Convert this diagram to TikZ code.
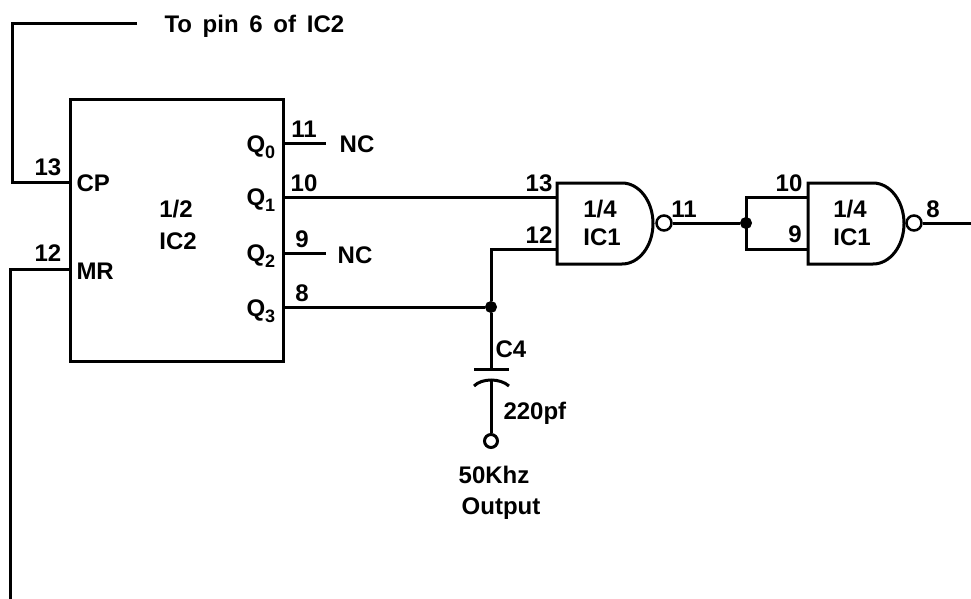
\documentclass[tikz,border=0pt]{standalone}
\usepackage{fontspec}
\setmainfont{Liberation Sans}
\usetikzlibrary{arrows}
\newcommand{\qpin}[1]{Q\raisebox{-6pt}{\fontsize{18}{20}\selectfont #1}}
\begin{document}
\begin{tikzpicture}[x=1pt,y=-1pt,line width=3pt]
\tikzstyle{chip} = [rectangle, draw, minimum width=213pt, minimum height=261pt, inner sep=0pt]
\tikzstyle{label} = [anchor=base, inner sep=0pt, font=\fontsize{24}{28}\selectfont\bfseries]
\tikzstyle{leftlabel} = [label, anchor=base west]
\tikzstyle{junction} = [circle, fill, draw, minimum size=11pt, inner sep=0pt, line width=1pt]
\tikzstyle{bubble} = [circle, draw, fill=white, minimum size=15pt, inner sep=0pt, line width=2.5pt]
\tikzstyle{terminal} = [circle, draw, fill=white, minimum size=13pt, inner sep=0pt, line width=3pt]
\useasboundingbox (0,0) rectangle (971,599);
% counter
\node [chip] (ic2) at (176.5,230.5) {};
\coordinate (pinend) at (137,24);
\coordinate (cp) at (70,182);
\coordinate (mr) at (70,269);
\coordinate (mrend) at (10,599);
\coordinate (q0) at (283,143);
\coordinate (q0end) at (326,143);
\coordinate (q1) at (283,197);
\coordinate (q2) at (283,253);
\coordinate (q2end) at (326,253);
\coordinate (q3) at (283,307);
% gates
\coordinate (gate1a) at (557,197);
\coordinate (gate1b) at (557,249);
\coordinate (gate2a) at (808,197);
\coordinate (gate2b) at (808,249);
\coordinate (out) at (971,223);
\draw [line join=miter] (557,183) -- (622,183) arc [start angle=90, end angle=-90, x radius=31pt, y radius=40.5pt] -- (557,264) -- cycle;
\draw [line join=miter] (808,183) -- (873,183) arc [start angle=90, end angle=-90, x radius=31pt, y radius=40.5pt] -- (808,264) -- cycle;
\node [bubble] (bubble1) at (664,223) {};
\node [bubble] (bubble2) at (914,223) {};
\node [junction] (join1) at (491,307) {};
\node [junction] (join2) at (746,223) {};
\node [terminal] (output) at (491,441) {};
\coordinate (plate1) at (491,369);
\coordinate (plate1a) at (474,369);
\coordinate (plate1b) at (509,369);
\coordinate (plate2) at (491,379);
\coordinate (plate2a) at (474,386);
\coordinate (plate2b) at (509,386);
% wires
\draw [line join=miter] (pinend) -- (12,24) -- (12,182) -- (cp);
\draw [line join=miter] (mr) -- (10,269) -- (mrend);
\draw (q0) -- (q0end);
\draw (q1) -- (gate1a);
\draw (q2) -- (q2end);
\draw (q3) -- (join1);
\draw [line join=miter] (join1) -- (491,249) -- (gate1b);
\draw (join1) -- (plate1);
\draw (plate1a) -- (plate1b);
\draw (plate2a) .. controls (482,378) and (500,378) .. (plate2b);
\draw (plate2) -- (output);
\draw (bubble1) -- (join2);
\draw [line join=miter] (gate2a) -- (746,197) -- (746,249) -- (gate2b);
\draw (bubble2) -- (out);
% text
\node [leftlabel] (pintext) at (163,33) {\spaceskip=10.7pt To pin 6 of IC2};
\node [label] (pin13) at (48,175) {13};
\node [label] (pin12) at (48,261) {12};
\node [leftlabel] (cptext) at (75,191) {CP};
\node [leftlabel] (mrtext) at (75,279) {MR};
\node [label] (half) at (176,217) {1/2};
\node [label] (ic2text) at (178,249) {IC2};
\node [leftlabel] (q0text) at (245,152) {\qpin{0}};
\node [leftlabel] (q1text) at (245,205) {\qpin{1}};
\node [leftlabel] (q2text) at (245,261) {\qpin{2}};
\node [leftlabel] (q3text) at (245,316) {\qpin{3}};
\node [label] (pin11) at (304,137) {11};
\node [label] (pin10) at (304,191) {10};
\node [label] (pin9) at (302,247) {9};
\node [label] (pin8) at (302,301) {8};
\node [label] (nc0) at (357,153) {NC};
\node [label] (nc2) at (355,263) {NC};
\node [label] (gate1pin13) at (539,191) {13};
\node [label] (gate1pin12) at (539,243) {12};
\node [label] (gate1top) at (600,217) {1/4};
\node [label] (gate1bot) at (602,245) {IC1};
\node [label] (gate1pin11) at (684,217) {11};
\node [label] (gate2pin10) at (789,191) {10};
\node [label] (gate2pin9) at (795,242) {9};
\node [label] (gate2top) at (850,217) {1/4};
\node [label] (gate2bot) at (852,245) {IC1};
\node [label] (gate2pin8) at (933,217) {8};
\node [label] (c4) at (511,357) {C4};
\node [leftlabel] (cap) at (502,419) {220pf};
\node [label] (khz) at (494,483) {50Khz};
\node [label] (outtext) at (501,514) {Output};
\end{tikzpicture}
\end{document}
